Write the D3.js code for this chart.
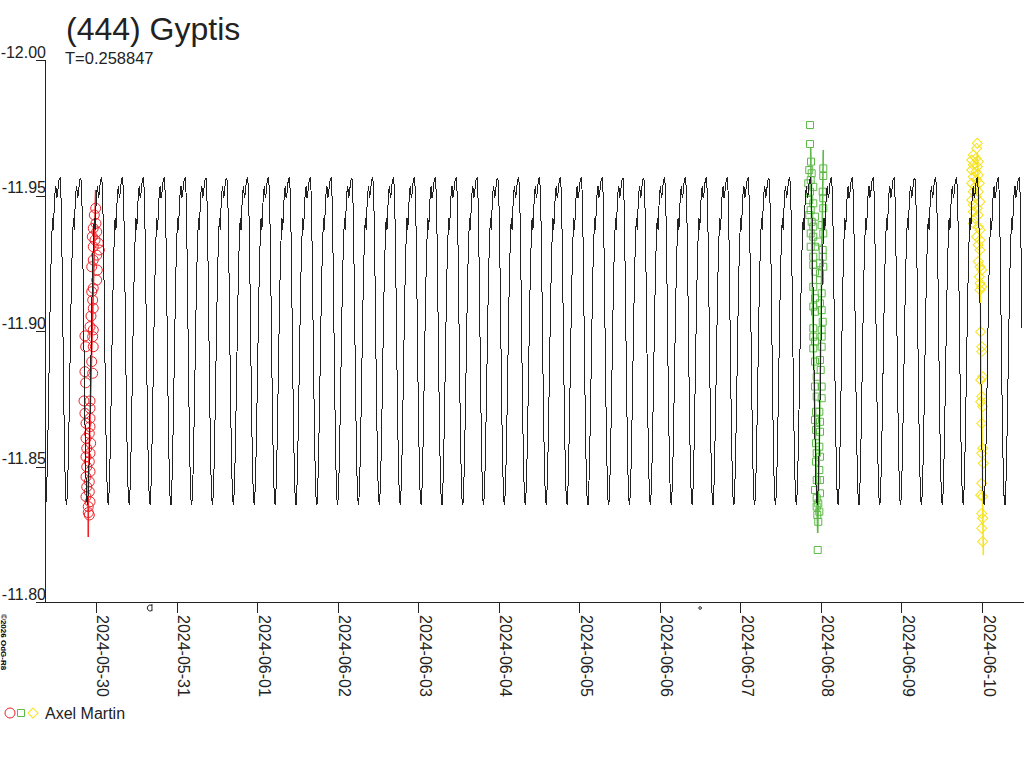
<!DOCTYPE html>
<html>
<head>
<meta charset="utf-8">
<script src="https://cdn.jsdelivr.net/npm/d3@7"></script>
<style>
  html, body { margin: 0; padding: 0; background: #fff; }
  svg { display: block; font-family: "Liberation Sans", Arial, sans-serif; }
</style>
</head>
<body>
<svg id="chart" width="1024" height="768"></svg>
<script>
// ---- values ----
const title = '(444) Gyptis';
const periodDays = 0.258847;
const observer = 'Axel Martin';
const credit = '\u00a92026 OdG-R8';

// times are days from this instant
const dayZero = Date.UTC(2024, 4, 30);
const timeSpan = [-0.633, 11.496];
const magSpan = [-12.00, -11.80];
const magTicks = [-12.00, -11.95, -11.90, -11.85, -11.80];
const dateTicks = ['2024-05-30', '2024-05-31', '2024-06-01', '2024-06-02', '2024-06-03', '2024-06-04',
                   '2024-06-05', '2024-06-06', '2024-06-07', '2024-06-08', '2024-06-09', '2024-06-10'];

// model light curve: one rotation, 25 steps from a minimum
const modelEpoch = -0.622;
const modelShape = [-11.8358, -11.8421, -11.8542, -11.8708, -11.8893, -11.9077, -11.9232, -11.9343,
                    -11.9417, -11.9373, -11.9454, -11.9513, -11.9535, -11.9491, -11.9506, -11.9542,
                    -11.9561, -11.9565, -11.9513, -11.9354, -11.9114, -11.8856, -11.8635, -11.8469, -11.8376];

// moon phases shown under the axis
const moonPhases = [{day: 0.67, phase: 'quarter'}, {day: 7.50, phase: 'new'}];

// session 1 (red circles)
const redPoints = [
  [-0.004,-11.9453],[-0.021,-11.9428],[0.000,-11.9397],[-0.034,-11.9379],[0.009,-11.9366],[-0.046,-11.9348],
  [-0.012,-11.9336],[0.029,-11.9324],[-0.034,-11.9311],[0.041,-11.9299],[0.009,-11.9280],[-0.034,-11.9262],
  [-0.053,-11.9237],[0.016,-11.9225],[0.009,-11.9188],[-0.034,-11.9158],[-0.053,-11.9145],[-0.041,-11.9114],
  [-0.034,-11.9084],[-0.062,-11.9055],[-0.074,-11.9016],[-0.034,-11.9004],[-0.137,-11.8982],[-0.041,-11.8979],
  [-0.128,-11.8942],[-0.034,-11.8942],[-0.053,-11.8887],[-0.137,-11.8850],[-0.041,-11.8844],[-0.128,-11.8809],
  [-0.149,-11.8742],[-0.074,-11.8742],[-0.074,-11.8715],[-0.137,-11.8696],[-0.074,-11.8678],[-0.124,-11.8659],
  [-0.074,-11.8647],[-0.083,-11.8622],[-0.124,-11.8604],[-0.066,-11.8586],[-0.115,-11.8567],[-0.074,-11.8549],
  [-0.124,-11.8536],[-0.083,-11.8518],[-0.115,-11.8499],[-0.074,-11.8481],[-0.124,-11.8462],[-0.083,-11.8444],
  [-0.115,-11.8425],[-0.083,-11.8407],[-0.124,-11.8389],[-0.074,-11.8370],[-0.096,-11.8352],[-0.096,-11.8330],
  [-0.083,-11.8321]
];
const redFit = [[-0.096,-11.8240],[-0.096,-11.8413],[-0.066,-11.8782],[-0.034,-11.9151],[-0.004,-11.9520]];

// session 2 (green squares)
const greenPoints = [
  [8.864,-11.9760],[8.864,-11.9690],[8.877,-11.9625],[8.855,-11.9594],[8.885,-11.9582],[9.029,-11.9600],
  [9.029,-11.9572],[8.873,-11.9557],[8.843,-11.9545],[8.905,-11.9532],[8.864,-11.9514],[9.022,-11.9514],
  [9.029,-11.9490],[8.855,-11.9483],[8.905,-11.9471],[8.873,-11.9446],[9.029,-11.9453],[8.855,-11.9428],
  [8.926,-11.9422],[8.885,-11.9403],[9.009,-11.9391],[8.905,-11.9385],[8.873,-11.9360],[9.029,-11.9360],
  [8.905,-11.9348],[8.967,-11.9330],[8.926,-11.9311],[8.873,-11.9311],[9.022,-11.9299],[8.905,-11.9274],
  [9.022,-11.9274],[8.988,-11.9250],[8.905,-11.9244],[9.029,-11.9237],[8.926,-11.9219],[8.988,-11.9213],
  [8.988,-11.9188],[8.905,-11.9163],[9.009,-11.9139],[8.926,-11.9121],[8.988,-11.9102],[8.905,-11.9090],
  [9.009,-11.9077],[8.926,-11.9071],[9.022,-11.9034],[8.905,-11.9010],[9.009,-11.9004],[8.905,-11.8979],
  [9.009,-11.8979],[8.926,-11.8961],[8.905,-11.8936],[9.009,-11.8942],[8.988,-11.8893],[8.926,-11.8887],
  [8.997,-11.8856],[8.947,-11.8831],[9.009,-11.8795],[8.926,-11.8795],[8.947,-11.8758],[9.009,-11.8752],
  [8.939,-11.8702],[8.980,-11.8702],[8.926,-11.8672],[8.988,-11.8665],[8.939,-11.8635],[8.988,-11.8628],
  [8.939,-11.8586],[8.980,-11.8573],[8.947,-11.8549],[8.988,-11.8536],[8.939,-11.8518],[8.980,-11.8487],
  [8.947,-11.8450],[8.988,-11.8450],[8.926,-11.8413],[8.988,-11.8401],[8.947,-11.8383],[8.967,-11.8364],
  [8.947,-11.8352],[8.980,-11.8333],[8.955,-11.8321],[8.967,-11.8296],[8.960,-11.8192]
];
const greenFit = [[8.873,-11.9675],[8.895,-11.9114],[8.926,-11.8672],[8.960,-11.8255],
                  [8.982,-11.8635],[9.007,-11.9188],[9.029,-11.9668]];

// session 3 (yellow diamonds)
const yellowPoints = [
  [10.941,-11.9693],[10.933,-11.9674],[10.891,-11.9649],[10.925,-11.9637],[10.871,-11.9631],[10.953,-11.9625],
  [10.891,-11.9613],[10.941,-11.9606],[10.871,-11.9594],[10.925,-11.9588],[10.953,-11.9576],[10.891,-11.9569],
  [10.933,-11.9557],[10.871,-11.9545],[10.966,-11.9545],[10.912,-11.9532],[10.891,-11.9514],[10.953,-11.9514],
  [10.925,-11.9496],[10.871,-11.9483],[10.975,-11.9477],[10.891,-11.9465],[10.941,-11.9453],[10.891,-11.9440],
  [10.953,-11.9428],[10.912,-11.9416],[10.891,-11.9397],[10.953,-11.9385],[10.975,-11.9373],[10.933,-11.9348],
  [10.975,-11.9336],[10.953,-11.9317],[10.975,-11.9299],[10.953,-11.9256],[10.975,-11.9237],[10.996,-11.9225],
  [10.966,-11.9200],[10.975,-11.9176],[10.996,-11.9163],[10.975,-11.9151],[10.983,-11.8997],[10.996,-11.8942],
  [10.996,-11.8924],[11.008,-11.8831],[10.983,-11.8819],[10.996,-11.8758],[10.983,-11.8739],[11.008,-11.8721],
  [10.996,-11.8659],[11.008,-11.8567],[10.996,-11.8549],[11.016,-11.8512],[10.996,-11.8438],[10.983,-11.8395],
  [11.008,-11.8389],[10.996,-11.8327],[11.008,-11.8309],[10.996,-11.8272],[11.008,-11.8223]
];
const yellowFit = [[10.941,-11.9657],[10.966,-11.9373],[10.983,-11.9004],[10.999,-11.8635],[11.016,-11.8173]];

const sessions = [
  {points: redPoints,    fit: redFit,    color: '#ec2227', shape: 'circle'},
  {points: greenPoints,  fit: greenFit,  color: '#5cb946', shape: 'square'},
  {points: yellowPoints, fit: yellowFit, color: '#f6e21c', shape: 'diamond'}
];

// ---- drawing ----
const ink = '#222';
const toDate = d => new Date(dayZero + d * 864e5);

const x = d3.scaleUtc().domain(timeSpan.map(toDate)).range([45, 1022]);
const y = d3.scaleLinear().domain(magSpan).range([60, 602]);

const svg = d3.select('#chart');
svg.append('defs').append('clipPath').attr('id', 'plot')
    .append('rect').attr('x', x.range()[0]).attr('y', 0).attr('width', x.range()[1] - x.range()[0]).attr('height', 768);

// axes
svg.append('g')
    .attr('transform', `translate(${x.range()[0]},0)`)
    .attr('color', ink)
    .call(d3.axisLeft(y).tickValues(magTicks).tickSize(9).tickSizeOuter(0).tickFormat(d => d.toFixed(2)))
    .call(g => g.select('.domain').remove())
    .call(g => g.attr('font-size', 16).attr('font-family', null))
    .call(g => g.selectAll('.tick line').attr('shape-rendering', 'crispEdges'))
    .call(g => g.selectAll('.tick text').attr('x', 1).attr('dy', -3));

svg.append('g')
    .attr('transform', `translate(0,${y.range()[1]})`)
    .attr('color', ink)
    .call(d3.axisBottom(x).tickValues(dateTicks.map(s => new Date(s + 'T00:00:00Z')))
        .tickSize(11).tickSizeOuter(0).tickFormat(d3.utcFormat('%Y-%m-%d')))
    .call(g => g.select('.domain').remove())
    .call(g => g.attr('font-size', 16).attr('font-family', null))
    .call(g => g.selectAll('.tick line').attr('shape-rendering', 'crispEdges'))
    .call(g => g.selectAll('.tick text')
        .attr('transform', 'rotate(90)').attr('x', 13).attr('y', -1).attr('dy', 0)
        .attr('text-anchor', 'start'));

// axis lines
svg.append('line').attr('x1', x.range()[0] - 9).attr('x2', 1024)
    .attr('y1', y.range()[1]).attr('y2', y.range()[1])
    .attr('stroke', ink).attr('shape-rendering', 'crispEdges');
svg.append('line').attr('x1', x.range()[0]).attr('x2', x.range()[0])
    .attr('y1', y.range()[0]).attr('y2', y.range()[1])
    .attr('stroke', ink).attr('shape-rendering', 'crispEdges');

// moon phases under the axis
const moons = svg.append('g').attr('fill', 'none').attr('stroke', ink);
moonPhases.forEach(m => {
    const mx = x(toDate(m.day)), my = y.range()[1] + 6;
    if (m.phase === 'quarter') {
        moons.append('path').attr('d', `M${mx + 2},${my - 4}V${my + 3}M${mx + 2},${my - 2.5}A3,3 0 1,0 ${mx + 2},${my + 2.5}`);
    } else {
        moons.append('circle').attr('cx', mx).attr('cy', my).attr('r', 1.3);
    }
});

const plot = svg.append('g').attr('clip-path', 'url(#plot)');

// session symbols and their fitted segments
const symSquare = d3.symbol(d3.symbolSquare, 49)();
const symDiamond = d3.symbol(d3.symbolSquare, 50)();

sessions.forEach(s => {
    const g = plot.append('g').attr('fill', 'none').attr('stroke', s.color);
    const marks = g.selectAll('.pt').data(s.points).enter();
    if (s.shape === 'circle') {
        marks.append('circle')
            .attr('cx', d => x(toDate(d[0]))).attr('cy', d => y(d[1])).attr('r', 5);
    } else {
        marks.append('path')
            .attr('d', s.shape === 'square' ? symSquare : symDiamond)
            .attr('transform', d => `translate(${x(toDate(d[0]))},${y(d[1])})` + (s.shape === 'diamond' ? ' rotate(45)' : ''));
    }
    g.append('path')
        .datum(s.fit)
        .attr('stroke-width', 1.6)
        .attr('d', d3.line().x(d => x(toDate(d[0]))).y(d => y(d[1])));
});

// model curve, repeated with the rotation period
const n = modelShape.length, step = periodDays / n;
const kFirst = Math.floor((timeSpan[0] - modelEpoch) / step) - 1;
const kLast = Math.ceil((timeSpan[1] - modelEpoch) / step) + 1;
const model = d3.range(kFirst, kLast + 1).map(k => [modelEpoch + k * step, modelShape[((k % n) + n) % n]]);

plot.append('path')
    .datum(model)
    .attr('fill', 'none')
    .attr('stroke', ink)
    .attr('stroke-width', 1)
    .attr('shape-rendering', 'crispEdges')
    .attr('d', d3.line().x(d => x(toDate(d[0]))).y(d => y(d[1])));

// title block
svg.append('text').attr('x', 66).attr('y', 40).attr('font-size', 32).attr('fill', ink).text(title);
svg.append('text').attr('x', 65).attr('y', 64).attr('font-size', 16.5).attr('fill', ink).text('T=' + periodDays);

// credit, written downwards
svg.append('text').attr('transform', 'translate(1,614) rotate(90)')
    .attr('font-size', 8).attr('font-weight', 'bold').attr('fill', '#000').text(credit);

// legend
const legend = svg.append('g').attr('fill', 'none');
legend.append('circle').attr('cx', 10).attr('cy', 713).attr('r', 5).attr('stroke', sessions[0].color);
legend.append('path').attr('d', symSquare).attr('transform', 'translate(21,713)').attr('stroke', sessions[1].color);
legend.append('path').attr('d', symDiamond).attr('transform', 'translate(33,713) rotate(45)').attr('stroke', sessions[2].color);
svg.append('text').attr('x', 45).attr('y', 719).attr('font-size', 16).attr('fill', ink).text(observer);
</script>
</body>
</html>
